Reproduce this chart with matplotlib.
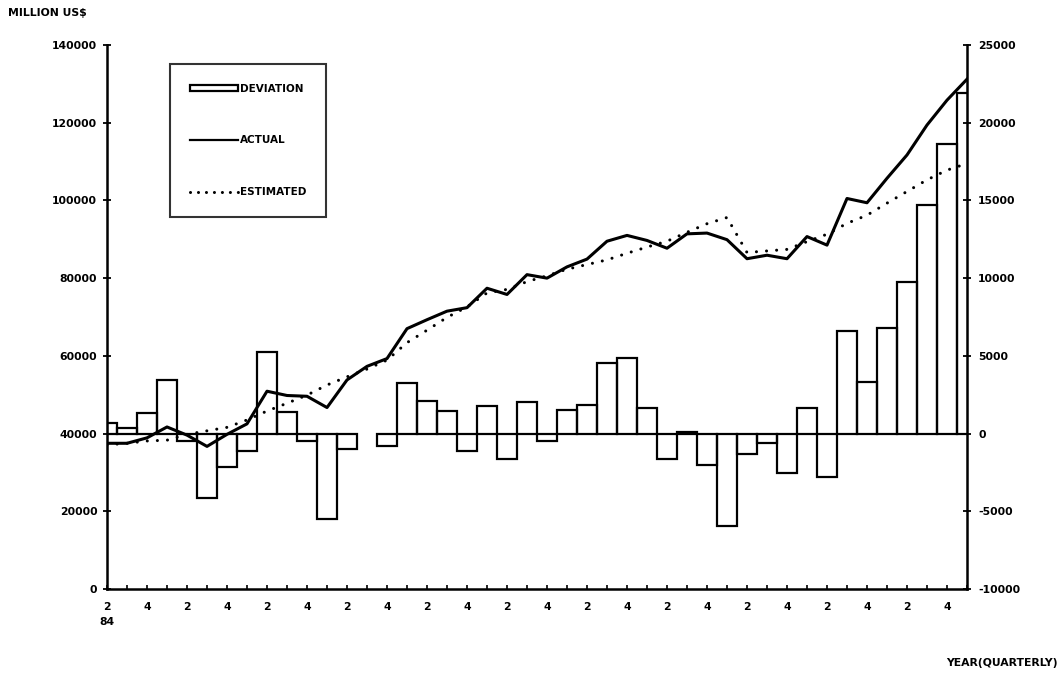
import numpy as np
import matplotlib
matplotlib.use("Agg")
import matplotlib.pyplot as plt
from matplotlib.patches import Patch
from matplotlib.lines import Line2D

# ---- data (quarterly, starting 1984 Q2) ----
quarters = list(range(44))
tick_labels = ["2" if i % 4 == 0 else "4" for i in range(0, 44, 2)]

actual = [37500, 37500, 38900, 41700, 39600, 36700, 39800, 42500, 50900, 49800,
          49600, 46700, 53800, 57300, 59300, 67000, 69300, 71500, 72400, 77400,
          75800, 80900, 80000, 82900, 84900, 89500, 91000, 89700, 87700, 91400,
          91600, 89900, 85000, 85900, 85000, 90700, 88500, 100500, 99400, 105700,
          111700, 119400, 125800, 131200]

estimated = [37100, 37500, 38100, 38300, 39800, 40700, 41600, 43500, 45800, 47800,
             49900, 52500, 54600, 56600, 58900, 63400, 66600, 69900, 72600, 76200,
             77100, 79100, 80600, 82300, 83500, 84700, 86400, 88000, 89500, 91800,
             94000, 95600, 86600, 87000, 87400, 89400, 91300, 94100, 96200, 99300,
             102300, 105300, 107800, 109500]

deviation = [700, 350, 1350, 3450, -500, -4150, -2130, -1100, 5270, 1420,
             -450, -5520, -1000, np.nan, -800, 3280, 2120, 1450, -1120, 1780,
             -1650, 2010, -450, 1520, 1840, 4560, 4880, 1630, -1650, 100,
             -2020, -5950, -1310, -620, -2510, 1630, -2770, 6620, 3340, 6810,
             9770, 14700, 18630, 21900]

left_ticks = [0, 20000, 40000, 60000, 80000, 100000, 120000, 140000]
right_ticks = [-10000, -5000, 0, 5000, 10000, 15000, 20000, 25000]

FONT = dict(family="DejaVu Sans", weight="bold", size=7.8)

fig = plt.figure(figsize=(10.62, 6.74), dpi=100)
ax = fig.add_axes([107/1062, 1-589/674, 860/1062, 544/674])
ax2 = ax.twinx()

# bars on the right axis
q = np.array(quarters, dtype=float)
dev = np.array(deviation, dtype=float)
m = ~np.isnan(dev)
ax2.bar(q[m], dev[m], width=1.0, facecolor="none", edgecolor="black",
        linewidth=1.6, zorder=2)
ax2.set_ylim(-10000, 25000)
ax2.set_yticks(right_ticks)
ax2.set_yticklabels([str(v) for v in right_ticks], fontdict=FONT)
ax2.tick_params(axis="y", direction="inout", length=6, width=1.3, pad=5)

# lines on the left axis, drawn above the bars
ax.set_zorder(ax2.get_zorder() + 1)
ax.patch.set_visible(False)
ax.plot(q, actual, color="black", linewidth=2.2, solid_joinstyle="round", zorder=3)
ax.plot(q, estimated, color="black", linewidth=2.2, linestyle=(0, (0.01, 3.3)),
        dash_capstyle="round", zorder=3)
ax.set_ylim(0, 140000)
ax.set_yticks(left_ticks)
ax.set_yticklabels([str(v) for v in left_ticks], fontdict=FONT)
ax.tick_params(axis="y", direction="inout", length=6, width=1.3, pad=4)

ax.set_xlim(0, 43)
ax.set_xticks(quarters)
ax.set_xticklabels([tick_labels[i // 2] if i % 2 == 0 else "" for i in quarters],
                   fontdict=FONT)
ax.tick_params(axis="x", direction="in", length=3, width=1.2, pad=9)
ax2.tick_params(axis="x", length=0)

for a in (ax, ax2):
    a.spines["top"].set_visible(False)
    for s in ("left", "right", "bottom"):
        a.spines[s].set_linewidth(1.8)
ax.spines["right"].set_visible(False)
ax2.spines["left"].set_visible(False)
ax2.spines["bottom"].set_visible(False)

# "84" under the first label
ax.text(0, -0.052, "84", transform=ax.get_xaxis_transform(), ha="center",
        va="top", fontdict=FONT)

# legend
handles = [Patch(facecolor="white", edgecolor="black", linewidth=1.6),
           Line2D([0], [0], color="black", linewidth=1.6),
           Line2D([0], [0], color="black", linewidth=2.2, linestyle=(0, (0.01, 2.6)),
                  dash_capstyle="round")]
leg = ax.legend(handles, ["DEVIATION", "ACTUAL", "ESTIMATED"],
                loc="upper left", bbox_to_anchor=(63/860, 525/544), borderaxespad=0,
                prop=dict(family="DejaVu Sans", weight="bold", size=7.5),
                frameon=True, fancybox=False, edgecolor="black",
                handlelength=4.6, handleheight=0.5, handletextpad=0.2,
                labelspacing=4.0, borderpad=1.9)
leg.get_frame().set_linewidth(1.5)

fig.text(8/1062, 1-13/674, "MILLION US$", ha="left", va="center", fontdict=FONT)
fig.text(1058/1062, 1-663/674, "YEAR(QUARTERLY)", ha="right", va="center",
         fontdict=FONT)

fig.savefig("out.png", dpi=100)
